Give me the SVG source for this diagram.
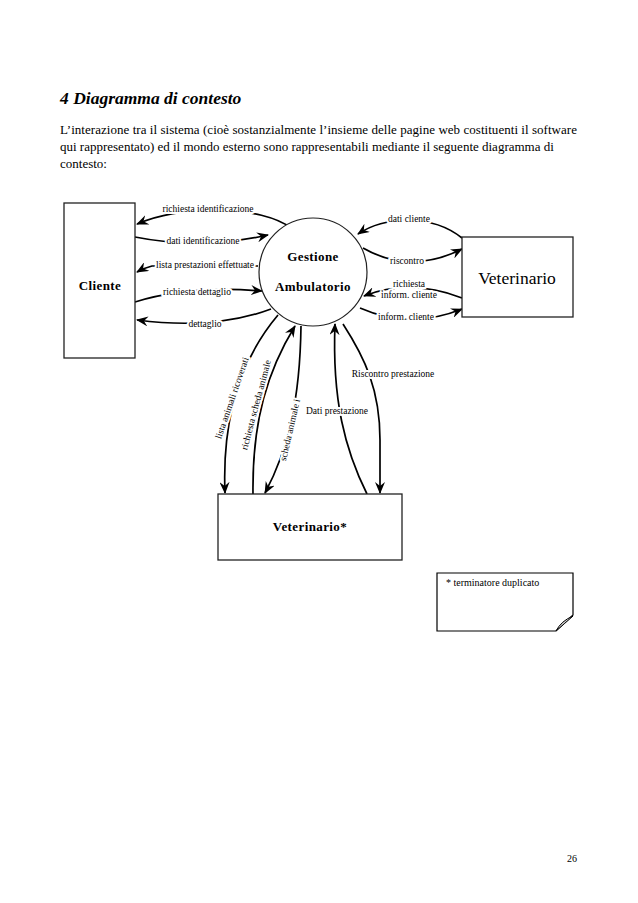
<svg xmlns="http://www.w3.org/2000/svg" width="638" height="903" viewBox="0 0 638 903">
<style>
.t{font-family:"Liberation Serif","Times New Roman",serif;fill:#000}
.lbl{font-family:"Liberation Serif","Times New Roman",serif;font-size:9.5px;fill:#000;stroke:#fff;stroke-width:4px;paint-order:stroke;stroke-linejoin:round}
.box{fill:#fff;stroke:#222;stroke-width:1.3}
.c{fill:none;stroke:#000;stroke-width:1.7}
.nb{font-family:"Liberation Serif","Times New Roman",serif;font-weight:bold;font-size:13px;text-anchor:middle;letter-spacing:0.4px}
</style>
<defs>
<marker id="ah" viewBox="0 0 12 10" refX="11" refY="5" markerWidth="12" markerHeight="10" markerUnits="userSpaceOnUse" orient="auto">
<path d="M0,0 L12,5 L0,10 L4,5 Z" fill="#000"/>
</marker>
</defs>
<rect width="638" height="903" fill="#fff"/>
<text class="t" x="60" y="104" font-size="17.5" font-weight="bold" font-style="italic">4 Diagramma di contesto</text>
<text class="t" x="60" y="134" font-size="13" textLength="517" lengthAdjust="spacing">L’interazione tra il sistema (cioè sostanzialmente l’insieme delle pagine web costituenti il software</text>
<text class="t" x="60" y="151" font-size="13">qui rappresentato) ed il mondo esterno sono rappresentabili mediante il seguente diagramma di</text>
<text class="t" x="60" y="168" font-size="13">contesto:</text>

<g id="connectors">
<path class="c" d="M291 228 C262 206 185 204 137 224" marker-end="url(#ah)"/>
<text class="lbl" x="208" y="212" text-anchor="middle">richiesta identificazione</text>
<path class="c" d="M135 237 Q200 250 268 235" marker-end="url(#ah)"/>
<text class="lbl" x="203" y="244" text-anchor="middle">dati identificazione</text>
<path class="c" d="M258 266 L152 266 Q144 268 137 272" marker-end="url(#ah)"/>
<text class="lbl" x="205" y="268" text-anchor="middle">lista prestazioni effettuate</text>
<path class="c" d="M135 302 Q190 285 262 291" marker-end="url(#ah)"/>
<text class="lbl" x="197" y="295" text-anchor="middle">richiesta dettaglio</text>
<path class="c" d="M271 309 Q215 330 137 320" marker-end="url(#ah)"/>
<text class="lbl" x="205" y="327" text-anchor="middle">dettaglio</text>

<path class="c" d="M462 238 C432 214 385 216 358 234" marker-end="url(#ah)"/>
<text class="lbl" x="409" y="222" text-anchor="middle">dati cliente</text>
<path class="c" d="M363 248 Q410 275 462 249" marker-end="url(#ah)"/>
<text class="lbl" x="407" y="264" text-anchor="middle">riscontro</text>
<path class="c" d="M462 298 Q410 278 364 296" marker-end="url(#ah)"/>
<text class="lbl" x="409" y="287" text-anchor="middle">richiesta</text>
<text class="lbl" x="409" y="298" text-anchor="middle">inform. cliente</text>
<path class="c" d="M360 308 Q410 330 462 309" marker-end="url(#ah)"/>
<text class="lbl" x="406" y="320" text-anchor="middle">inform. cliente</text>

<path class="c" d="M278 315 C240 360 222 420 225 493" marker-end="url(#ah)"/>
<text class="lbl" x="232" y="401" text-anchor="middle" transform="rotate(-71 232 398)">lista animali ricoverati</text>
<path class="c" d="M253 494 C252 420 268 370 295 326" marker-end="url(#ah)"/>
<text class="lbl" x="256" y="408" text-anchor="middle" transform="rotate(-75 256 405)">richiesta scheda animale</text>
<path class="c" d="M301 326 C300 400 288 450 265 493" marker-end="url(#ah)"/>
<text class="lbl" x="290" y="433" text-anchor="middle" transform="rotate(-77 290 430)">scheda animale i</text>
<path class="c" d="M367 494 C345 450 332 400 335 324" marker-end="url(#ah)"/>
<text class="lbl" x="337" y="414" text-anchor="middle">Dati prestazione</text>
<path class="c" d="M343 324 C365 358 380 390 380 440 L380 493" marker-end="url(#ah)"/>
<text class="lbl" x="393" y="377" text-anchor="middle">Riscontro prestazione</text>
</g>

<g id="cliente">
<rect class="box" x="64" y="203" width="71" height="155"/>
<text class="nb" x="100" y="290">Cliente</text>
</g>
<g id="gestione">
<circle cx="313" cy="272" r="54" fill="#fff" stroke="#222" stroke-width="1.2"/>
<text class="nb" x="313" y="261">Gestione</text>
<text class="nb" x="313" y="291">Ambulatorio</text>
</g>
<g id="veterinario">
<rect class="box" x="462" y="237" width="111" height="80"/>
<text class="t" x="517" y="284" font-size="17.5" text-anchor="middle">Veterinario</text>
</g>
<g id="veterinario2">
<rect class="box" x="218" y="494" width="184" height="66"/>
<text class="nb" x="310" y="531">Veterinario*</text>
</g>
<g id="nota">
<path d="M437 573 H573 V615 L556 631 H437 Z" fill="#fff" stroke="#000" stroke-width="1.2"/>
<path d="M556 631 Q561 621 573 616 Q564 624 556 631 Z" fill="#ccc" stroke="#000" stroke-width="1"/>
<text class="t" x="446" y="586" font-size="10">* terminatore duplicato</text>
</g>
<text class="t" x="577" y="862" font-size="10" text-anchor="end">26</text>
</svg>
